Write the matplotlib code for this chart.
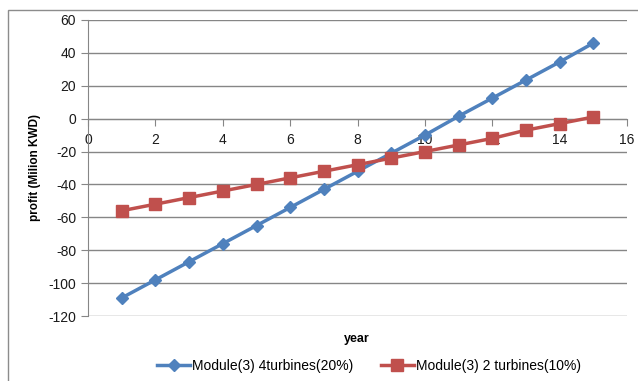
import matplotlib.pyplot as plt
from matplotlib.patches import Rectangle

plt.rcParams['font.family'] = ['Liberation Sans', 'DejaVu Sans']
plt.rcParams['axes.unicode_minus'] = False

years = list(range(1, 16))
profit_4t = [-109, -98, -87, -76, -65, -54, -43, -32, -21, -10, 1.5, 12.5, 23.5, 34.5, 46]
profit_2t = [-56, -52, -48, -44, -40, -36, -32, -28, -24, -20, -16, -12, -7, -3, 1]
label_4t = 'Module(3) 4turbines(20%)'
label_2t = 'Module(3) 2 turbines(10%)'

fig = plt.figure(figsize=(6.38, 3.81), dpi=100)
ax = fig.add_axes([0.138, 0.1706, 0.845, 0.777])

# outer frame of the chart area
fig.add_artist(Rectangle((8 / 638, -0.1), 1.2, 1 - 10 / 381 + 0.1,
                         transform=fig.transFigure, fill=False,
                         edgecolor='#8c8c8c', linewidth=1.0, clip_on=False))

ax.plot(years, profit_4t, color='#4F81BD', linewidth=2.5, marker='D',
        markersize=6, label=label_4t, zorder=3)
ax.plot(years, profit_2t, color='#C0504D', linewidth=2.5, marker='s',
        markersize=8, label=label_2t, zorder=3)

ax.set_xlim(0, 16)
ax.set_ylim(-120, 60)
ax.set_xticks(range(0, 17, 2))
ax.set_yticks(range(-120, 61, 20))
ax.yaxis.grid(True, color='#868686', linewidth=1.0)
ax.set_axisbelow(True)

for s in ('top', 'right'):
    ax.spines[s].set_visible(False)
ax.spines['bottom'].set_position(('data', 0))
ax.spines['bottom'].set_color('#868686')
ax.spines['left'].set_color('#868686')
ax.tick_params(axis='both', direction='out', length=5, color='#868686',
               labelsize=10, labelcolor='#1a1a1a')
ax.tick_params(axis='x', pad=5)

ax.set_ylabel('profit (Milion KWD)', fontsize=8.5, fontweight='bold', labelpad=5)
fig.text(357 / 638, 1 - 339 / 381, 'year', fontsize=9, fontweight='bold',
         ha='center', va='center')

fig.legend(loc='center', bbox_to_anchor=(0.578, 1 - 366 / 381), ncol=2,
           frameon=False, fontsize=10, handlelength=2.4, handletextpad=0.1,
           columnspacing=2.0)

fig.savefig('out.png', dpi=100)
